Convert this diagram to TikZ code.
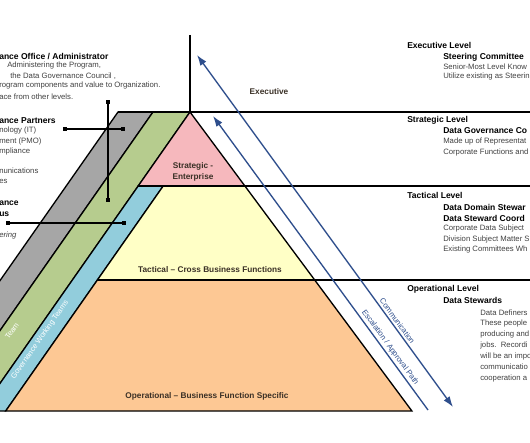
\documentclass[tikz,border=0pt]{standalone}
\usepackage{fontspec}
\setmainfont{Liberation Sans}
\usepackage{xcolor}
\usepackage{tikz}
\usetikzlibrary{arrows.meta}
\definecolor{bandgray}{HTML}{A6A6A6}
\definecolor{bandgreen}{HTML}{B6CC8E}
\definecolor{bandblue}{HTML}{92CDDC}
\definecolor{tierpink}{HTML}{F6B8BD}
\definecolor{tieryellow}{HTML}{FFFFC6}
\definecolor{tierorange}{HTML}{FDC894}
\definecolor{flowblue}{HTML}{2E4E8C}
\definecolor{bodygray}{HTML}{404040}
\definecolor{tiertext}{HTML}{3A3026}

\begin{document}
\begin{tikzpicture}[x=0.75pt,y=-0.75pt,
  lvl/.style={anchor=west,inner sep=0pt,font=\fontsize{6.4}{7}\selectfont\bfseries},
  body/.style={anchor=west,inner sep=0pt,text=bodygray,font=\fontsize{5.8}{7}\selectfont},
  tier/.style={inner sep=0pt,text=tiertext,align=center,font=\fontsize{6.2}{8}\selectfont\bfseries},
  band/.style={inner sep=0pt,text=white,rotate=55,font=\fontsize{5.6}{7}\selectfont},
  rim/.style={draw=black,line width=1pt},
  flow/.style={draw=flowblue,line width=1pt},
  flowlabel/.style={sloped,above,inner sep=1.5pt,text=flowblue,font=\fontsize{5.8}{6}\selectfont},
  tab/.style={rectangle,fill=black,minimum size=3.2pt,inner sep=0pt}]
\useasboundingbox (0,0) rectangle (530,442);
\clip (0,0) rectangle (530,442);

\filldraw[fill=bandgray,rim] (118,112) -- (153,112) -- (-56.3,411) -- (-91.3,411) -- cycle;
\filldraw[fill=bandgreen,rim] (153,112) -- (190,112) -- (-19.3,411) -- (-56.3,411) -- cycle;
\filldraw[fill=bandblue,rim] (138.2,186) -- (163.2,186) -- (5.7,411) -- (-19.3,411) -- cycle;
\filldraw[fill=tierpink,rim] (190,112) -- (244.9,186) -- (138.2,186) -- cycle;
\filldraw[fill=tieryellow,rim] (163.2,186) -- (244.9,186) -- (314.7,280) -- (97.4,280) -- cycle;
\filldraw[fill=tierorange,rim] (97.4,280) -- (314.7,280) -- (411.9,411) -- (5.7,411) -- cycle;

\draw[rim] (118,112) -- (530,112);
\draw[rim] (138.2,186) -- (530,186);
\draw[rim] (97.4,280) -- (530,280);
\draw[rim] (190,35) -- (190,112);

\node[band] (workteams) at (40,340) {Governance Working Teams};
\node[band] (team) at (12,331) {Team};

\node[tier] (exec) at (269,92) {Executive};
\node[tier] (strat) at (193,172) {Strategic -\\Enterprise};
\node[tier] (tact) at (210,270) {Tactical -- Cross Business Functions};
\node[tier] (oper) at (207,396) {Operational -- Business Function Specific};

\coordinate (comtop) at (197,55);
\coordinate (combot) at (453,407);
\coordinate (esctop) at (213,116);
\coordinate (escbot) at (428,410);
\draw[flow,{Latex[length=8pt,width=5.5pt]}-{Latex[length=8pt,width=5.5pt]}] (comtop) -- node[flowlabel,pos=0.765] {Communication} (combot);
\draw[flow,{Latex[length=8pt,width=5.5pt]}-] (esctop) -- node[flowlabel,pos=0.8] {Escalation / Approval Path} (escbot);

\node[tab] (offtop) at (108,102) {};
\node[tab] (offbot) at (108,200) {};
\node[tab] (partl) at (65,129) {};
\node[tab] (partr) at (123,129) {};
\node[tab] (bodl) at (8,223) {};
\node[tab] (bodr) at (124,223) {};
\draw[line width=0.8pt] (offtop) -- (offbot);
\draw[line width=0.8pt] (partl) -- (partr);
\draw[line width=0.8pt] (bodl) -- (bodr);

\node[lvl] (offhead) at (-1,56) {ance Office / Administrator};
\node[body] (off1) at (7,66) {Administering the Program,};
\node[body] (off2) at (10,76) {the Data Governance Council ,};
\node[body] (off3) at (-1,86) {rogram components and value to Organization.};
\node[body] (off4) at (-1,97) {ace from other levels.};
\node[lvl] (parthead) at (-1,121) {ance Partners};
\node[body] (part1) at (-1,131) {nology (IT)};
\node[body] (part2) at (-1,141) {ment (PMO)};
\node[body] (part3) at (-1,151) {mpliance};
\node[body] (part4) at (-1,171) {nunications};
\node[body] (part5) at (-1,181) {es};
\node[lvl] (bodhead1) at (-1,203) {ance};
\node[lvl] (bodhead2) at (-1,214) {us};
\node[body,font=\fontsize{5.8}{7}\selectfont\itshape] (bod1) at (-1,235) {ering};

\node[lvl] (exechead) at (407,45) {Executive Level};
\node[lvl] (execsub) at (443,57) {Steering Committee};
\node[body] (exec1) at (443,67) {Senior-Most Level Know};
\node[body] (exec2) at (443,77) {Utilize existing as Steerin};

\node[lvl] (strathead) at (407,120) {Strategic Level};
\node[lvl] (stratsub) at (443,131) {Data Governance Co};
\node[body] (strat1) at (443,142) {Made up of Representat};
\node[body] (strat2) at (443,152) {Corporate Functions and};

\node[lvl] (tacthead) at (407,195) {Tactical Level};
\node[lvl] (tactsub1) at (443,207) {Data Domain Stewar};
\node[lvl] (tactsub2) at (443,218) {Data Steward Coord};
\node[body] (tact1) at (443,228) {Corporate Data Subject};
\node[body] (tact2) at (443,239) {Division Subject Matter S};
\node[body] (tact3) at (443,249) {Existing Committees Wh};

\node[lvl] (operhead) at (407,289) {Operational Level};
\node[lvl] (opersub) at (443,300) {Data Stewards};
\node[body] (oper1) at (480,313) {Data Definers};
\node[body] (oper2) at (480,323) {These people};
\node[body] (oper3) at (480,334) {producing and};
\node[body] (oper4) at (480,345) {jobs.\ \ Recordi};
\node[body] (oper5) at (480,356) {will be an impo};
\node[body] (oper6) at (480,367) {communicatio};
\node[body] (oper7) at (480,378) {cooperation a};
\end{tikzpicture}
\end{document}
